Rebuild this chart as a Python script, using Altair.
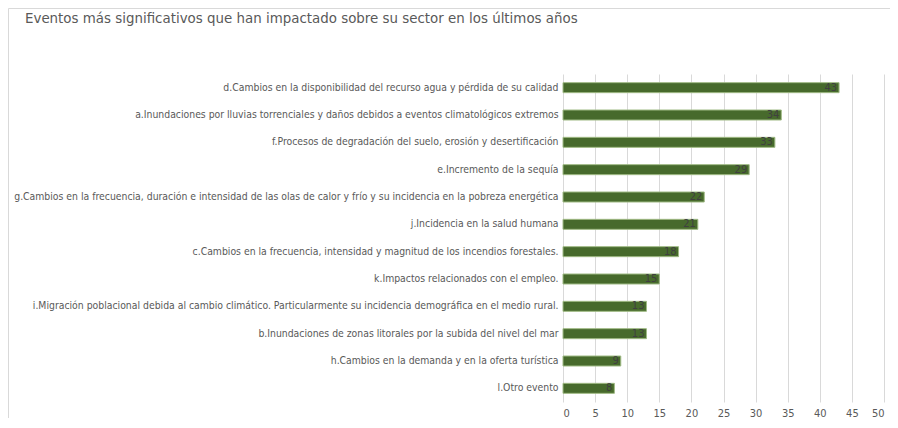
import altair as alt
import pandas as pd

events = [
    "d.Cambios en la disponibilidad del recurso agua y pérdida de su calidad",
    "a.Inundaciones por lluvias torrenciales y daños debidos a eventos climatológicos extremos",
    "f.Procesos de degradación del suelo, erosión y desertificación ",
    "e.Incremento de la sequía",
    "g.Cambios en la frecuencia, duración e intensidad de las olas de calor y frío y su incidencia en la pobreza energética",
    "j.Incidencia en la salud humana",
    "c.Cambios en la frecuencia, intensidad y magnitud de los incendios forestales.",
    "k.Impactos relacionados con el empleo.",
    "i.Migración poblacional debida al cambio climático. Particularmente su incidencia demográfica en el medio rural.",
    "b.Inundaciones de zonas litorales por la subida del nivel del mar",
    "h.Cambios en la demanda y en la oferta turística",
    "l.Otro evento",
]
counts = [43, 34, 33, 29, 22, 21, 18, 15, 13, 13, 9, 8]
x_ticks = [0, 5, 10, 15, 20, 25, 30, 35, 40, 45, 50]
title_text = "Eventos más significativos que han impactado sobre su sector en los últimos años"

df = pd.DataFrame({"evento": events, "n": counts})

LABEL_FONT = "DejaVu Sans Condensed"

PAD_LEFT, PAD_TOP, PAD_RIGHT, PAD_BOTTOM = 555, 66, 6, 16
W, H = 321, 328
pin = 1 - 10 / (H / 12)

y_enc = alt.Y(
    "evento:N",
    sort=events,
    title=None,
    scale=alt.Scale(paddingInner=pin, paddingOuter=pin / 2),
    axis=alt.Axis(
        labelFont=LABEL_FONT,
        labelFontSize=10.35,
        labelColor="#595959",
        labelLimit=800,
        ticks=False,
        domain=False,
        labelPadding=5,
    ),
)
x_enc = alt.X(
    "n:Q",
    title=None,
    scale=alt.Scale(domain=[0, 50], nice=False),
    axis=alt.Axis(
        values=x_ticks,
        grid=True,
        gridColor="#d9d9d9",
        domain=False,
        ticks=False,
        labelPadding=5,
        labelFont=LABEL_FONT,
        labelFontSize=11,
        labelColor="#595959",
    ),
)

base = alt.Chart(df)
bars = base.mark_bar(color="#476a2c", stroke="#9fba84", strokeWidth=1).encode(x=x_enc, y=y_enc)
labels = base.mark_text(
    align="right", baseline="middle", dx=-2, color="#404040", font=LABEL_FONT, fontSize=11
).encode(x=x_enc, y=y_enc, text="n:Q")

frame_df = pd.DataFrame({"k": [0]})
top_line = alt.Chart(frame_df).mark_rule(color="#d9d9d9", strokeWidth=1).encode(
    x=alt.value(-PAD_LEFT + 0.5), x2=alt.value(W + PAD_RIGHT), y=alt.value(-PAD_TOP + 0.5)
)
left_line = alt.Chart(frame_df).mark_rule(color="#d9d9d9", strokeWidth=1).encode(
    x=alt.value(-PAD_LEFT + 0.5), y=alt.value(-PAD_TOP + 0.5), y2=alt.value(H + PAD_BOTTOM)
)

chart = (
    alt.layer(bars, labels, top_line, left_line)
    .properties(
        width=W,
        height=H,
        autosize=alt.AutoSizeParams(type="none"),
        padding={"left": PAD_LEFT, "top": PAD_TOP, "right": PAD_RIGHT, "bottom": PAD_BOTTOM},
        title=alt.TitleParams(
            title_text,
            anchor="start",
            frame="group",
            dx=-(PAD_LEFT - 17),
            offset=0,
            dy=28,
            baseline="alphabetic",
            font="DejaVu Sans",
            fontSize=13.4,
            fontWeight="normal",
            color="#595959",
        ),
    )
    .configure_view(stroke=None)
)

chart.save("out.html", embed_options={"renderer": "svg", "actions": False})
